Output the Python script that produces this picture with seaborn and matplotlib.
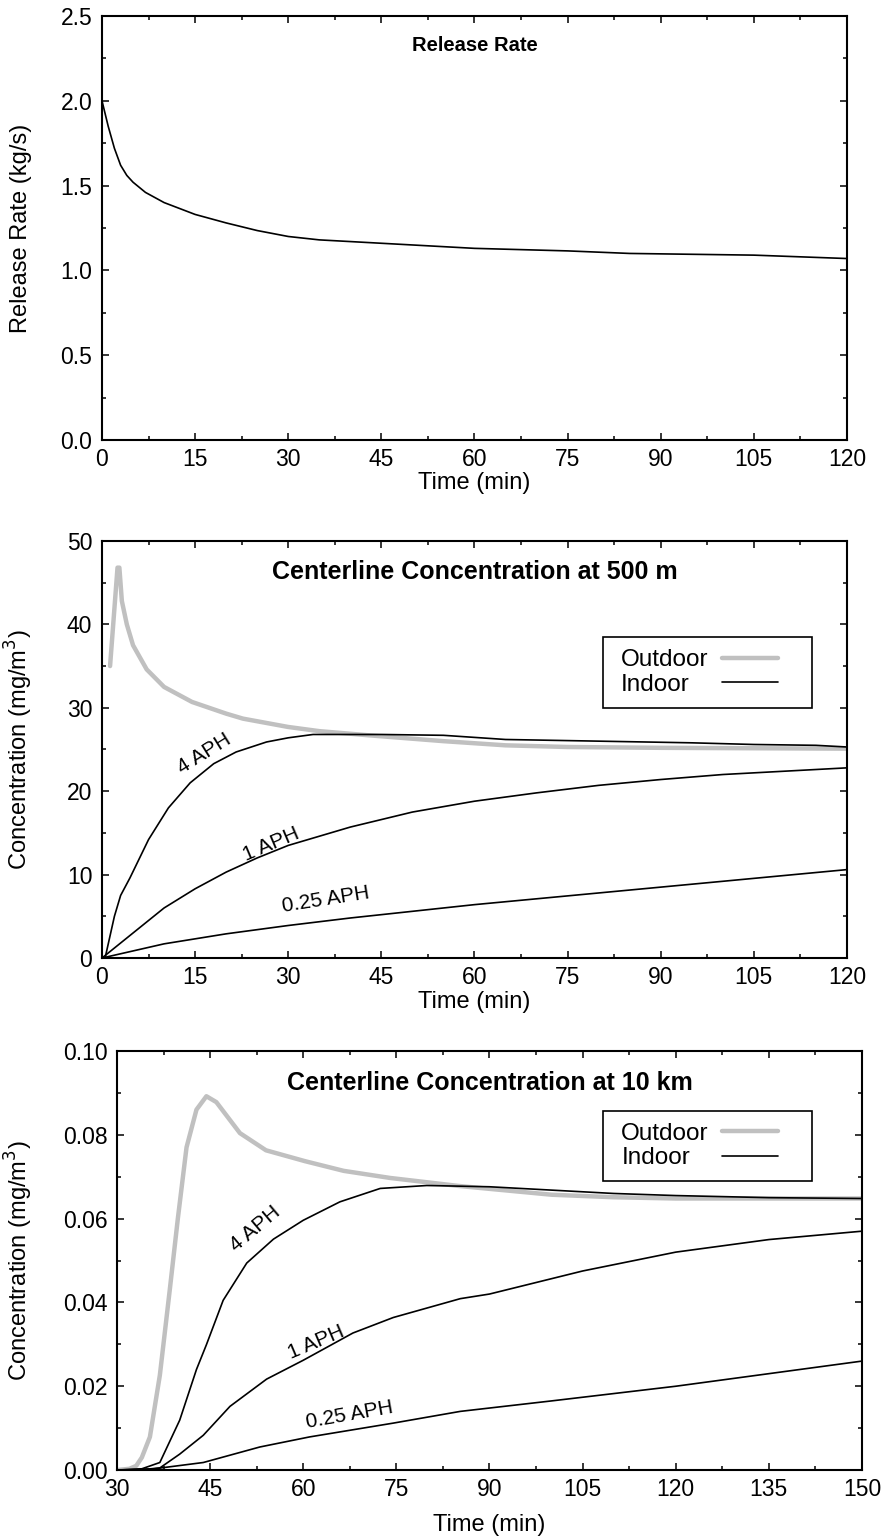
import numpy as np
import pandas as pd
import matplotlib
matplotlib.use("Agg")
import matplotlib.pyplot as plt
import seaborn as sns
from matplotlib.ticker import MultipleLocator, FormatStrFormatter
from matplotlib.patches import Rectangle

sns.set_theme(style="ticks")
plt.rcParams["font.family"] = ["Liberation Sans", "DejaVu Sans"]
for k in ["text.color", "axes.labelcolor", "xtick.color", "ytick.color", "axes.edgecolor"]:
    plt.rcParams[k] = "black"

# --- panel 1: release rate
rate_t = [0, 1, 2, 3, 4, 5, 7, 10, 15, 20, 25, 30, 35, 45, 60, 75, 85, 105, 120]
rate_v = [2.0, 1.85, 1.72, 1.62, 1.56, 1.52, 1.46, 1.40, 1.33, 1.28, 1.235, 1.20,
          1.18, 1.16, 1.13, 1.115, 1.10, 1.09, 1.07]

# --- panel 2: 500 m
out500_t = [1.3, 2.5, 2.8, 3.2, 4, 5, 7.2, 10, 14.5, 20, 22.7, 30, 35, 43, 55, 65, 75, 90, 120]
out500_v = [35, 46.8, 46.8, 42.8, 40, 37.5, 34.6, 32.5, 30.7, 29.3, 28.7, 27.7, 27.2,
            26.7, 26.0, 25.5, 25.3, 25.2, 25.1]
aph4_500_t = [0, 0.5, 2, 3, 4.5, 7.5, 10.7, 14.2, 18, 21.6, 26.5, 30, 34, 45, 55, 65, 80, 95, 105, 115, 120]
aph4_500_v = [0, 0, 5, 7.5, 9.6, 14.2, 18, 21, 23.3, 24.7, 25.9, 26.4, 26.8, 26.8, 26.7,
              26.2, 26.0, 25.8, 25.6, 25.5, 25.3]
aph1_500_t = [0, 5, 10, 15, 20, 25, 30, 40, 50, 60, 70, 80, 90, 100, 110, 120]
aph1_500_v = [0, 3, 6, 8.3, 10.3, 12, 13.5, 15.7, 17.5, 18.8, 19.8, 20.7, 21.4, 22, 22.4, 22.8]
aph025_500_t = [0, 10, 15, 20, 30, 40, 50, 60, 70, 80, 90, 100, 110, 120]
aph025_500_v = [0, 1.7, 2.3, 2.9, 3.9, 4.8, 5.6, 6.4, 7.1, 7.8, 8.5, 9.2, 9.9, 10.6]

# --- panel 3: 10 km
out10_t = [30, 32, 33.1, 34, 35.3, 36.9, 38.5, 39.8, 41.2, 42.8, 44.4, 46, 49.8, 54,
           60.3, 66.5, 74, 85, 100, 110, 120, 150]
out10_v = [0, 0.0003, 0.001, 0.003, 0.0079, 0.0226, 0.043, 0.060, 0.077, 0.086, 0.0892,
           0.0878, 0.0804, 0.0763, 0.0737, 0.0714, 0.0697, 0.0678, 0.0657, 0.0651, 0.0648, 0.0648]
aph4_10_t = [30, 34, 36.9, 40.1, 42.8, 44.4, 47.1, 50.9, 55.2, 60, 65.9, 72.4, 79.9, 90,
             100, 110, 120, 135, 150]
aph4_10_v = [0, 0.0003, 0.0018, 0.0119, 0.024, 0.0299, 0.0405, 0.0494, 0.0551, 0.0596,
             0.064, 0.0672, 0.0679, 0.0676, 0.0668, 0.066, 0.0655, 0.065, 0.0648]
aph1_10_t = [30, 34, 36.9, 40.1, 43.9, 48.2, 54.1, 60, 68, 74.5, 85.3, 90, 105, 120, 135, 150]
aph1_10_v = [0, 0.0001, 0.0005, 0.0038, 0.0083, 0.0152, 0.0217, 0.0262, 0.0327, 0.0364,
             0.0409, 0.042, 0.0475, 0.052, 0.055, 0.057]
aph025_10_t = [30, 36, 43.9, 53, 61, 74.5, 85.3, 100, 120, 135, 150]
aph025_10_v = [0, 0.0003, 0.0018, 0.0055, 0.0079, 0.0112, 0.014, 0.0165, 0.020, 0.023, 0.026]

GRAY = "#c0c0c0"
FS = 16.5

fig = plt.figure(figsize=(8.83, 15.39), dpi=100)
ax1 = fig.add_axes([0.1155, 0.7141, 0.8437, 0.2755])
ax2 = fig.add_axes([0.1155, 0.3775, 0.8437, 0.2710])
ax3 = fig.add_axes([0.1325, 0.0448, 0.8437, 0.2723])


def style(ax, xmaj, ymaj):
    ax.xaxis.set_major_locator(MultipleLocator(xmaj))
    ax.xaxis.set_minor_locator(MultipleLocator(xmaj / 2))
    ax.yaxis.set_major_locator(MultipleLocator(ymaj))
    ax.yaxis.set_minor_locator(MultipleLocator(ymaj / 2))
    ax.tick_params(which="both", direction="in", top=True, right=True, width=1.1,
                   labelsize=FS)
    ax.tick_params(which="major", length=5)
    ax.tick_params(which="minor", length=3.2)
    ax.tick_params(axis="y", pad=7)
    ax.tick_params(axis="x", pad=6)
    for s in ax.spines.values():
        s.set_linewidth(1.5)
    ax.set_xlabel("Time (min)", fontsize=17)


def line(ax, t, v, color="black", lw=1.2, label="_nolegend_"):
    d = pd.DataFrame({"t": t, "v": v})
    sns.lineplot(data=d, x="t", y="v", ax=ax, color=color, lw=lw, label=label,
                 estimator=None, sort=False)


# panel 1
line(ax1, rate_t, rate_v)
ax1.set_xlim(0, 120)
ax1.set_ylim(0, 2.5)
style(ax1, 15, 0.5)
ax1.yaxis.set_major_formatter(FormatStrFormatter("%.1f"))
ax1.set_ylabel("Release Rate (kg/s)", fontsize=17)
ax1.text(0.5, 0.93, "Release Rate", transform=ax1.transAxes, ha="center", va="center",
         fontsize=14.5, fontweight="bold")

# panel 2
line(ax2, out500_t, out500_v, color=GRAY, lw=3.2, label="Outdoor")
line(ax2, aph4_500_t, aph4_500_v, label="Indoor")
line(ax2, aph1_500_t, aph1_500_v)
line(ax2, aph025_500_t, aph025_500_v)
ax2.set_xlim(0, 120)
ax2.set_ylim(0, 50)
style(ax2, 15, 10)
ax2.set_ylabel("Concentration (mg/m$^3$)", fontsize=17)
ax2.text(0.5, 0.926, "Centerline Concentration at 500 m", transform=ax2.transAxes,
         ha="center", va="center", fontsize=18, fontweight="bold")
ax2.text(16.5, 24.5, "4 APH", rotation=32, ha="center", va="center", fontsize=15)
ax2.text(27.3, 13.6, "1 APH", rotation=23, ha="center", va="center", fontsize=15)
ax2.text(36, 7.0, "0.25 APH", rotation=9, ha="center", va="center", fontsize=15)

# panel 3
line(ax3, out10_t, out10_v, color=GRAY, lw=3.2, label="Outdoor")
line(ax3, aph4_10_t, aph4_10_v, label="Indoor")
line(ax3, aph1_10_t, aph1_10_v)
line(ax3, aph025_10_t, aph025_10_v)
ax3.set_xlim(30, 150)
ax3.set_ylim(0, 0.10)
style(ax3, 15, 0.02)
ax3.yaxis.set_major_formatter(FormatStrFormatter("%.2f"))
ax3.set_ylabel("Concentration (mg/m$^3$)", fontsize=17)
ax3.text(0.5, 0.924, "Centerline Concentration at 10 km", transform=ax3.transAxes,
         ha="center", va="center", fontsize=18, fontweight="bold")
ax3.text(52.3, 0.0575, "4 APH", rotation=40, ha="center", va="center", fontsize=15)
ax3.text(62, 0.0305, "1 APH", rotation=23, ha="center", va="center", fontsize=15)
ax3.text(67.4, 0.0132, "0.25 APH", rotation=10, ha="center", va="center", fontsize=15)

# legends: frame box (x0, y0, x1, y1) and text start, in axes fractions
renderer = fig.canvas.get_renderer()
for ax, box, tx in [(ax2, (0.6725, 0.60, 0.953, 0.77), 0.697),
                    (ax3, (0.652, 0.69, 0.933, 0.857), 0.677)]:
    x0, y0, x1, y1 = box
    ax.add_patch(Rectangle((x0, y0), x1 - x0, y1 - y0, transform=ax.transAxes,
                           facecolor="white", edgecolor="black", lw=1.2, zorder=4))
    leg = ax.legend(loc="center left", bbox_to_anchor=(tx, (y0 + y1) / 2),
                    markerfirst=False, frameon=False, fontsize=17.5, handlelength=2.3,
                    borderaxespad=0, borderpad=0, labelspacing=0.1, handletextpad=0.55)
    leg.set_zorder(5)
    col = leg._legend_handle_box.get_children()[0]
    rows = col.get_children()
    widths = [r.get_window_extent(renderer).width for r in rows]
    for r, w in zip(rows, widths):
        r.sep += (max(widths) - w) * 72 / fig.dpi

ax1.yaxis.set_label_coords(-0.094, 0.5)
ax2.yaxis.set_label_coords(-0.09, 0.5)
ax3.yaxis.set_label_coords(-0.11, 0.5)
ax1.xaxis.set_label_coords(0.5, -0.075)
ax2.xaxis.set_label_coords(0.5, -0.08)
ax3.xaxis.set_label_coords(0.5, -0.105)

fig.savefig("out.png", dpi=100, facecolor="white")
